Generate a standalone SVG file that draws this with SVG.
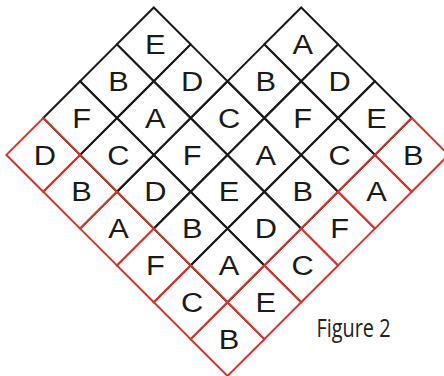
<svg xmlns="http://www.w3.org/2000/svg" width="444" height="376" viewBox="0 0 444 376">
<style>
.c{fill:none;stroke:#1a1a1a;stroke-width:2;stroke-linejoin:miter}
.r{fill:none;stroke:#d2352b;stroke-width:2;stroke-linejoin:miter}
.t{font-family:"Liberation Sans",Arial,sans-serif;font-size:28px;fill:#1a1a1a;text-anchor:middle}
.cap{font-family:"Open Sans","Noto Sans",sans-serif;font-size:26px;fill:#222}
</style>
<rect width="444" height="376" fill="#fff"/>
<g id="cells">
<g id="cell-E1"><polygon class="c" points="153.8,7.5 190.65,44.35 153.8,81.2 116.95,44.35"/><text class="t" transform="translate(155.3,54) scale(1.1,1)">E</text></g>
<g id="cell-A1"><polygon class="c" points="301.2,7.5 338.05,44.35 301.2,81.2 264.35,44.35"/><text class="t" transform="translate(302.7,54) scale(1.1,1)">A</text></g>
<g id="cell-B2"><polygon class="c" points="116.95,44.35 153.8,81.2 116.95,118.05 80.1,81.2"/><text class="t" transform="translate(118.45,90.85) scale(1.1,1)">B</text></g>
<g id="cell-D2"><polygon class="c" points="190.65,44.35 227.5,81.2 190.65,118.05 153.8,81.2"/><text class="t" transform="translate(192.15,90.85) scale(1.1,1)">D</text></g>
<g id="cell-B2b"><polygon class="c" points="264.35,44.35 301.2,81.2 264.35,118.05 227.5,81.2"/><text class="t" transform="translate(265.85,90.85) scale(1.1,1)">B</text></g>
<g id="cell-D2b"><polygon class="c" points="338.05,44.35 374.9,81.2 338.05,118.05 301.2,81.2"/><text class="t" transform="translate(339.55,90.85) scale(1.1,1)">D</text></g>
<g id="cell-F3"><polygon class="c" points="80.1,81.2 116.95,118.05 80.1,154.9 43.25,118.05"/><text class="t" transform="translate(81.6,127.7) scale(1.1,1)">F</text></g>
<g id="cell-A3"><polygon class="c" points="153.8,81.2 190.65,118.05 153.8,154.9 116.95,118.05"/><text class="t" transform="translate(155.3,127.7) scale(1.1,1)">A</text></g>
<g id="cell-C3"><polygon class="c" points="227.5,81.2 264.35,118.05 227.5,154.9 190.65,118.05"/><text class="t" transform="translate(229,127.7) scale(1.1,1)">C</text></g>
<g id="cell-F3b"><polygon class="c" points="301.2,81.2 338.05,118.05 301.2,154.9 264.35,118.05"/><text class="t" transform="translate(302.7,127.7) scale(1.1,1)">F</text></g>
<g id="cell-E3"><polygon class="c" points="374.9,81.2 411.75,118.05 374.9,154.9 338.05,118.05"/><text class="t" transform="translate(376.4,127.7) scale(1.1,1)">E</text></g>
<g id="cell-C4"><polygon class="c" points="116.95,118.05 153.8,154.9 116.95,191.75 80.1,154.9"/><text class="t" transform="translate(118.45,164.55) scale(1.1,1)">C</text></g>
<g id="cell-F4"><polygon class="c" points="190.65,118.05 227.5,154.9 190.65,191.75 153.8,154.9"/><text class="t" transform="translate(192.15,164.55) scale(1.1,1)">F</text></g>
<g id="cell-A4"><polygon class="c" points="264.35,118.05 301.2,154.9 264.35,191.75 227.5,154.9"/><text class="t" transform="translate(265.85,164.55) scale(1.1,1)">A</text></g>
<g id="cell-C4b"><polygon class="c" points="338.05,118.05 374.9,154.9 338.05,191.75 301.2,154.9"/><text class="t" transform="translate(339.55,164.55) scale(1.1,1)">C</text></g>
<g id="cell-D5"><polygon class="c" points="153.8,154.9 190.65,191.75 153.8,228.6 116.95,191.75"/><text class="t" transform="translate(155.3,201.4) scale(1.1,1)">D</text></g>
<g id="cell-E5"><polygon class="c" points="227.5,154.9 264.35,191.75 227.5,228.6 190.65,191.75"/><text class="t" transform="translate(229,201.4) scale(1.1,1)">E</text></g>
<g id="cell-B5"><polygon class="c" points="301.2,154.9 338.05,191.75 301.2,228.6 264.35,191.75"/><text class="t" transform="translate(302.7,201.4) scale(1.1,1)">B</text></g>
<g id="cell-B6"><polygon class="c" points="190.65,191.75 227.5,228.6 190.65,265.45 153.8,228.6"/><text class="t" transform="translate(192.15,238.25) scale(1.1,1)">B</text></g>
<g id="cell-D6"><polygon class="c" points="264.35,191.75 301.2,228.6 264.35,265.45 227.5,228.6"/><text class="t" transform="translate(265.85,238.25) scale(1.1,1)">D</text></g>
<g id="cell-A7"><polygon class="c" points="227.5,228.6 264.35,265.45 227.5,302.3 190.65,265.45"/><text class="t" transform="translate(229,275.1) scale(1.1,1)">A</text></g>
</g>
<g id="red-cells">
<g id="cell-D4"><polygon class="r" points="43.25,118.05 80.1,154.9 43.25,191.75 6.4,154.9"/><text class="t" transform="translate(44.75,164.55) scale(1.1,1)">D</text></g>
<g id="cell-B5a"><polygon class="r" points="80.1,154.9 116.95,191.75 80.1,228.6 43.25,191.75"/><text class="t" transform="translate(81.6,201.4) scale(1.1,1)">B</text></g>
<g id="cell-A6a"><polygon class="r" points="116.95,191.75 153.8,228.6 116.95,265.45 80.1,228.6"/><text class="t" transform="translate(118.45,238.25) scale(1.1,1)">A</text></g>
<g id="cell-F7a"><polygon class="r" points="153.8,228.6 190.65,265.45 153.8,302.3 116.95,265.45"/><text class="t" transform="translate(155.3,275.1) scale(1.1,1)">F</text></g>
<g id="cell-C8a"><polygon class="r" points="190.65,265.45 227.5,302.3 190.65,339.15 153.8,302.3"/><text class="t" transform="translate(192.15,311.95) scale(1.1,1)">C</text></g>
<g id="cell-B9"><polygon class="r" points="227.5,302.3 264.35,339.15 227.5,376 190.65,339.15"/><text class="t" transform="translate(229,348.8) scale(1.1,1)">B</text></g>
<g id="cell-B4r"><polygon class="r" points="411.75,118.05 448.6,154.9 411.75,191.75 374.9,154.9"/><text class="t" transform="translate(413.25,164.55) scale(1.1,1)">B</text></g>
<g id="cell-A5r"><polygon class="r" points="374.9,154.9 411.75,191.75 374.9,228.6 338.05,191.75"/><text class="t" transform="translate(376.4,201.4) scale(1.1,1)">A</text></g>
<g id="cell-F6r"><polygon class="r" points="338.05,191.75 374.9,228.6 338.05,265.45 301.2,228.6"/><text class="t" transform="translate(339.55,238.25) scale(1.1,1)">F</text></g>
<g id="cell-C7r"><polygon class="r" points="301.2,228.6 338.05,265.45 301.2,302.3 264.35,265.45"/><text class="t" transform="translate(302.7,275.1) scale(1.1,1)">C</text></g>
<g id="cell-E8r"><polygon class="r" points="264.35,265.45 301.2,302.3 264.35,339.15 227.5,302.3"/><text class="t" transform="translate(265.85,311.95) scale(1.1,1)">E</text></g>
</g>
<text class="cap" x="316.5" y="336.7" textLength="74" lengthAdjust="spacingAndGlyphs">Figure 2</text>
</svg>
